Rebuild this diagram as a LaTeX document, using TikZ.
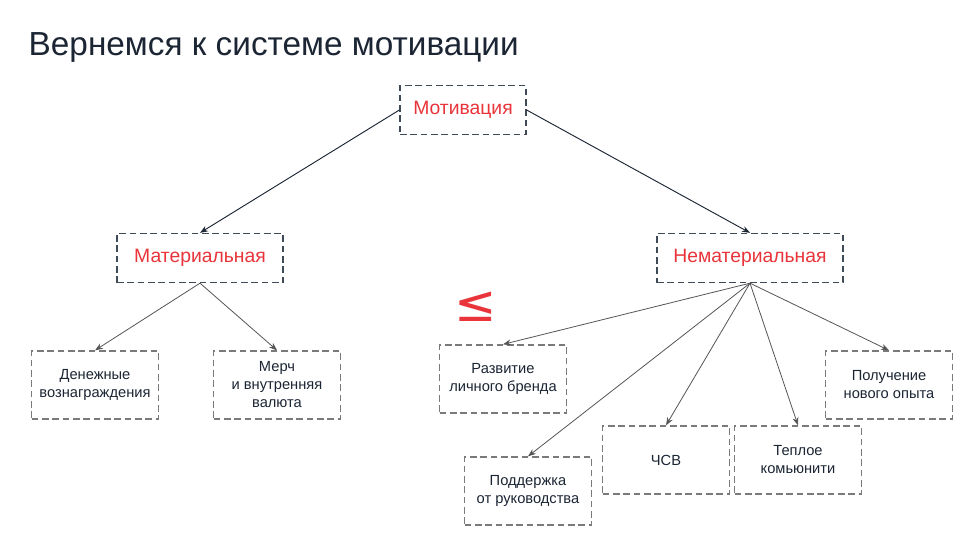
\documentclass[tikz,border=0pt]{standalone}
\usepackage{fontspec}
\setmainfont{Liberation Sans}
\newfontfamily\symfont{DejaVu Sans}
\usetikzlibrary{arrows.meta,positioning}
\definecolor{inkblue}{HTML}{1B2533}
\definecolor{boxslate}{HTML}{3E4A55}
\definecolor{boxgray}{HTML}{7A7A7A}
\definecolor{accred}{HTML}{E8343A}
\definecolor{linegray}{HTML}{555555}
\tikzset{
  dbox/.style={line width=1pt,dash pattern=on 5pt off 2.75pt,inner sep=0,align=center,text=inkblue,font=\fontsize{11}{13.5}\selectfont},
  small/.style={dbox,draw=boxgray,minimum width=95.25pt,minimum height=51pt},
  head/.style={dbox,draw=boxslate,minimum height=36.75pt,text=accred,font=\fontsize{14.5}{17}\selectfont},
  link/.style={draw=linegray,line width=0.6pt,-{Stealth[length=6pt,width=4.5pt]}},
  toplink/.style={link,draw=inkblue,line width=0.7pt}
}
\begin{document}
\begin{tikzpicture}[x=0.75pt,y=-0.75pt]
        \fill[white] (0,0) rectangle (960,533);
        \useasboundingbox (0,0) rectangle (960,533);
        % title
        \node[anchor=west,text=inkblue,font=\fontsize{25}{29}\selectfont] (title) at (24,47) {Вернемся к системе мотивации};
        % top levels
        \node[head,minimum width=94.5pt] (mot) at (463,110) {Мотивация};
        \node[head,minimum width=124.5pt] (mat) at (200,258) {Материальная};
        \node[head,minimum width=139.5pt] (nemat) at (750,258) {Нематериальная};
        % material branch
        \node[small] (money) at (95,385) {Денежные\\вознаграждения};
        \node[small] (merch) at (277,385) {Мерч\\и внутренняя\\валюта};
        % non-material branch
        \node[small] (brand) at (503,379) {Развитие\\личного бренда};
        \node[small] (support) at (528,491) {Поддержка\\от руководства};
        \node[small] (csv) at (666,460) {ЧСВ};
        \node[small] (comm) at (798,460) {Теплое\\комьюнити};
        \node[small] (exp) at (889,385) {Получение\\нового опыта};
        % red sign
        \node[text=accred,font=\symfont\fontsize{38}{38}\selectfont] (sign) at (476,307) {≤};
        % arrows
        \draw[toplink] (mot.west) -- (mat.north);
        \draw[toplink] (mot.east) -- (nemat.north);
        \draw[link] (mat.south) -- (money.north);
        \draw[link] (mat.south) -- (merch.north);
        \draw[link] (nemat.south) -- (brand.north);
        \draw[link] (nemat.south) -- (support.north);
        \draw[link] (nemat.south) -- (csv.north);
        \draw[link] (nemat.south) -- (comm.north);
        \draw[link] (nemat.south) -- (exp.north);
\end{tikzpicture}
\end{document}
